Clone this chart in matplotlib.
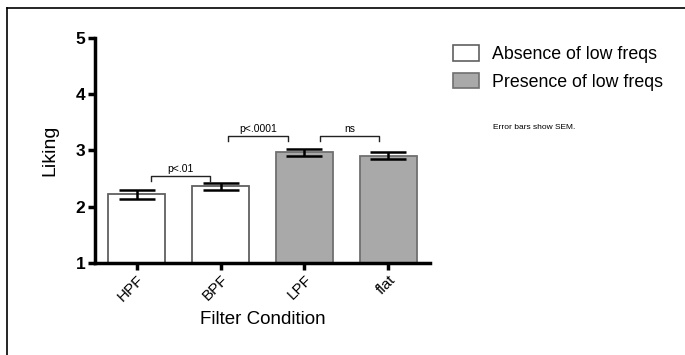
import matplotlib.pyplot as plt
from matplotlib.lines import Line2D
from matplotlib.patches import Patch

plt.rcParams['font.family'] = ['Liberation Sans', 'DejaVu Sans']

# values
conditions = ['HPF', 'BPF', 'LPF', 'flat']
liking = [2.22, 2.36, 2.97, 2.91]
sem = [0.08, 0.07, 0.06, 0.06]
low_freqs = [False, False, True, True]
legend_labels = ['Absence of low freqs', 'Presence of low freqs']

# significance brackets: (x start, x end, height, label)
brackets = [(0.17, 0.87, 2.55, 'p<.01'),
            (1.09, 1.80, 3.26, 'p<.0001'),
            (2.19, 2.89, 3.26, 'ns')]

fig = plt.figure(figsize=(6.85, 3.55), dpi=100)
ax = fig.add_axes([0.1387, 0.2592, 0.4893, 0.634])

x = range(len(conditions))
faces = ['#a9a9a9' if lf else 'white' for lf in low_freqs]
edges = ['#707070' if lf else '#606060' for lf in low_freqs]
ax.bar(x, [v - 1 for v in liking], bottom=1, width=0.68, color=faces,
       edgecolor=edges, linewidth=1.3, zorder=2)
ax.errorbar(x, liking, yerr=sem, fmt='none', ecolor='black', elinewidth=1.8,
            capsize=13, capthick=1.8, zorder=3)

for x0, x1, y, lab in brackets:
    ax.plot([x0, x0, x1, x1], [y - 0.1, y, y, y - 0.1], color='#222222', lw=1.0)
    ax.text((x0 + x1) / 2, y + 0.03, lab, ha='center', va='bottom', fontsize=7.5)

ax.set_xlim(-0.5, 3.5)
ax.set_ylim(1, 5)
ax.set_yticks([1, 2, 3, 4, 5])
ax.set_xticks(list(x))
ax.set_xticklabels(conditions, rotation=45, ha='right', rotation_mode='anchor', fontsize=11)
for lab in ax.get_yticklabels():
    lab.set_fontweight('bold')
    lab.set_fontsize(12.5)
ax.spines['top'].set_visible(False)
ax.spines['right'].set_visible(False)
ax.spines['left'].set_linewidth(2.5)
ax.spines['bottom'].set_linewidth(2.5)
ax.tick_params(width=2.5, length=5, pad=2)
ax.set_ylabel('Liking', fontsize=14, labelpad=12)
ax.set_xlabel('Filter Condition', fontsize=13.5, labelpad=5)

handles = [Patch(facecolor='white', edgecolor='#606060', lw=1.2),
           Patch(facecolor='#a9a9a9', edgecolor='#707070', lw=1.2)]
fig.legend(handles, legend_labels, loc='upper left', bbox_to_anchor=(0.661, 0.872),
           frameon=False, fontsize=12.8, handlelength=1.5, handleheight=0.95,
           handletextpad=0.7, labelspacing=0.55, borderaxespad=0, borderpad=0)
fig.text(0.72, 0.642, 'Error bars show SEM.', fontsize=6, va='center')

# frame lines at the top and left of the figure
fig.add_artist(Line2D([7 / 685, 1], [1 - 8 / 355, 1 - 8 / 355], color='black', lw=1.2))
fig.add_artist(Line2D([7 / 685, 7 / 685], [0, 1 - 8 / 355], color='black', lw=1.2))

fig.savefig('out.png', dpi=100)
